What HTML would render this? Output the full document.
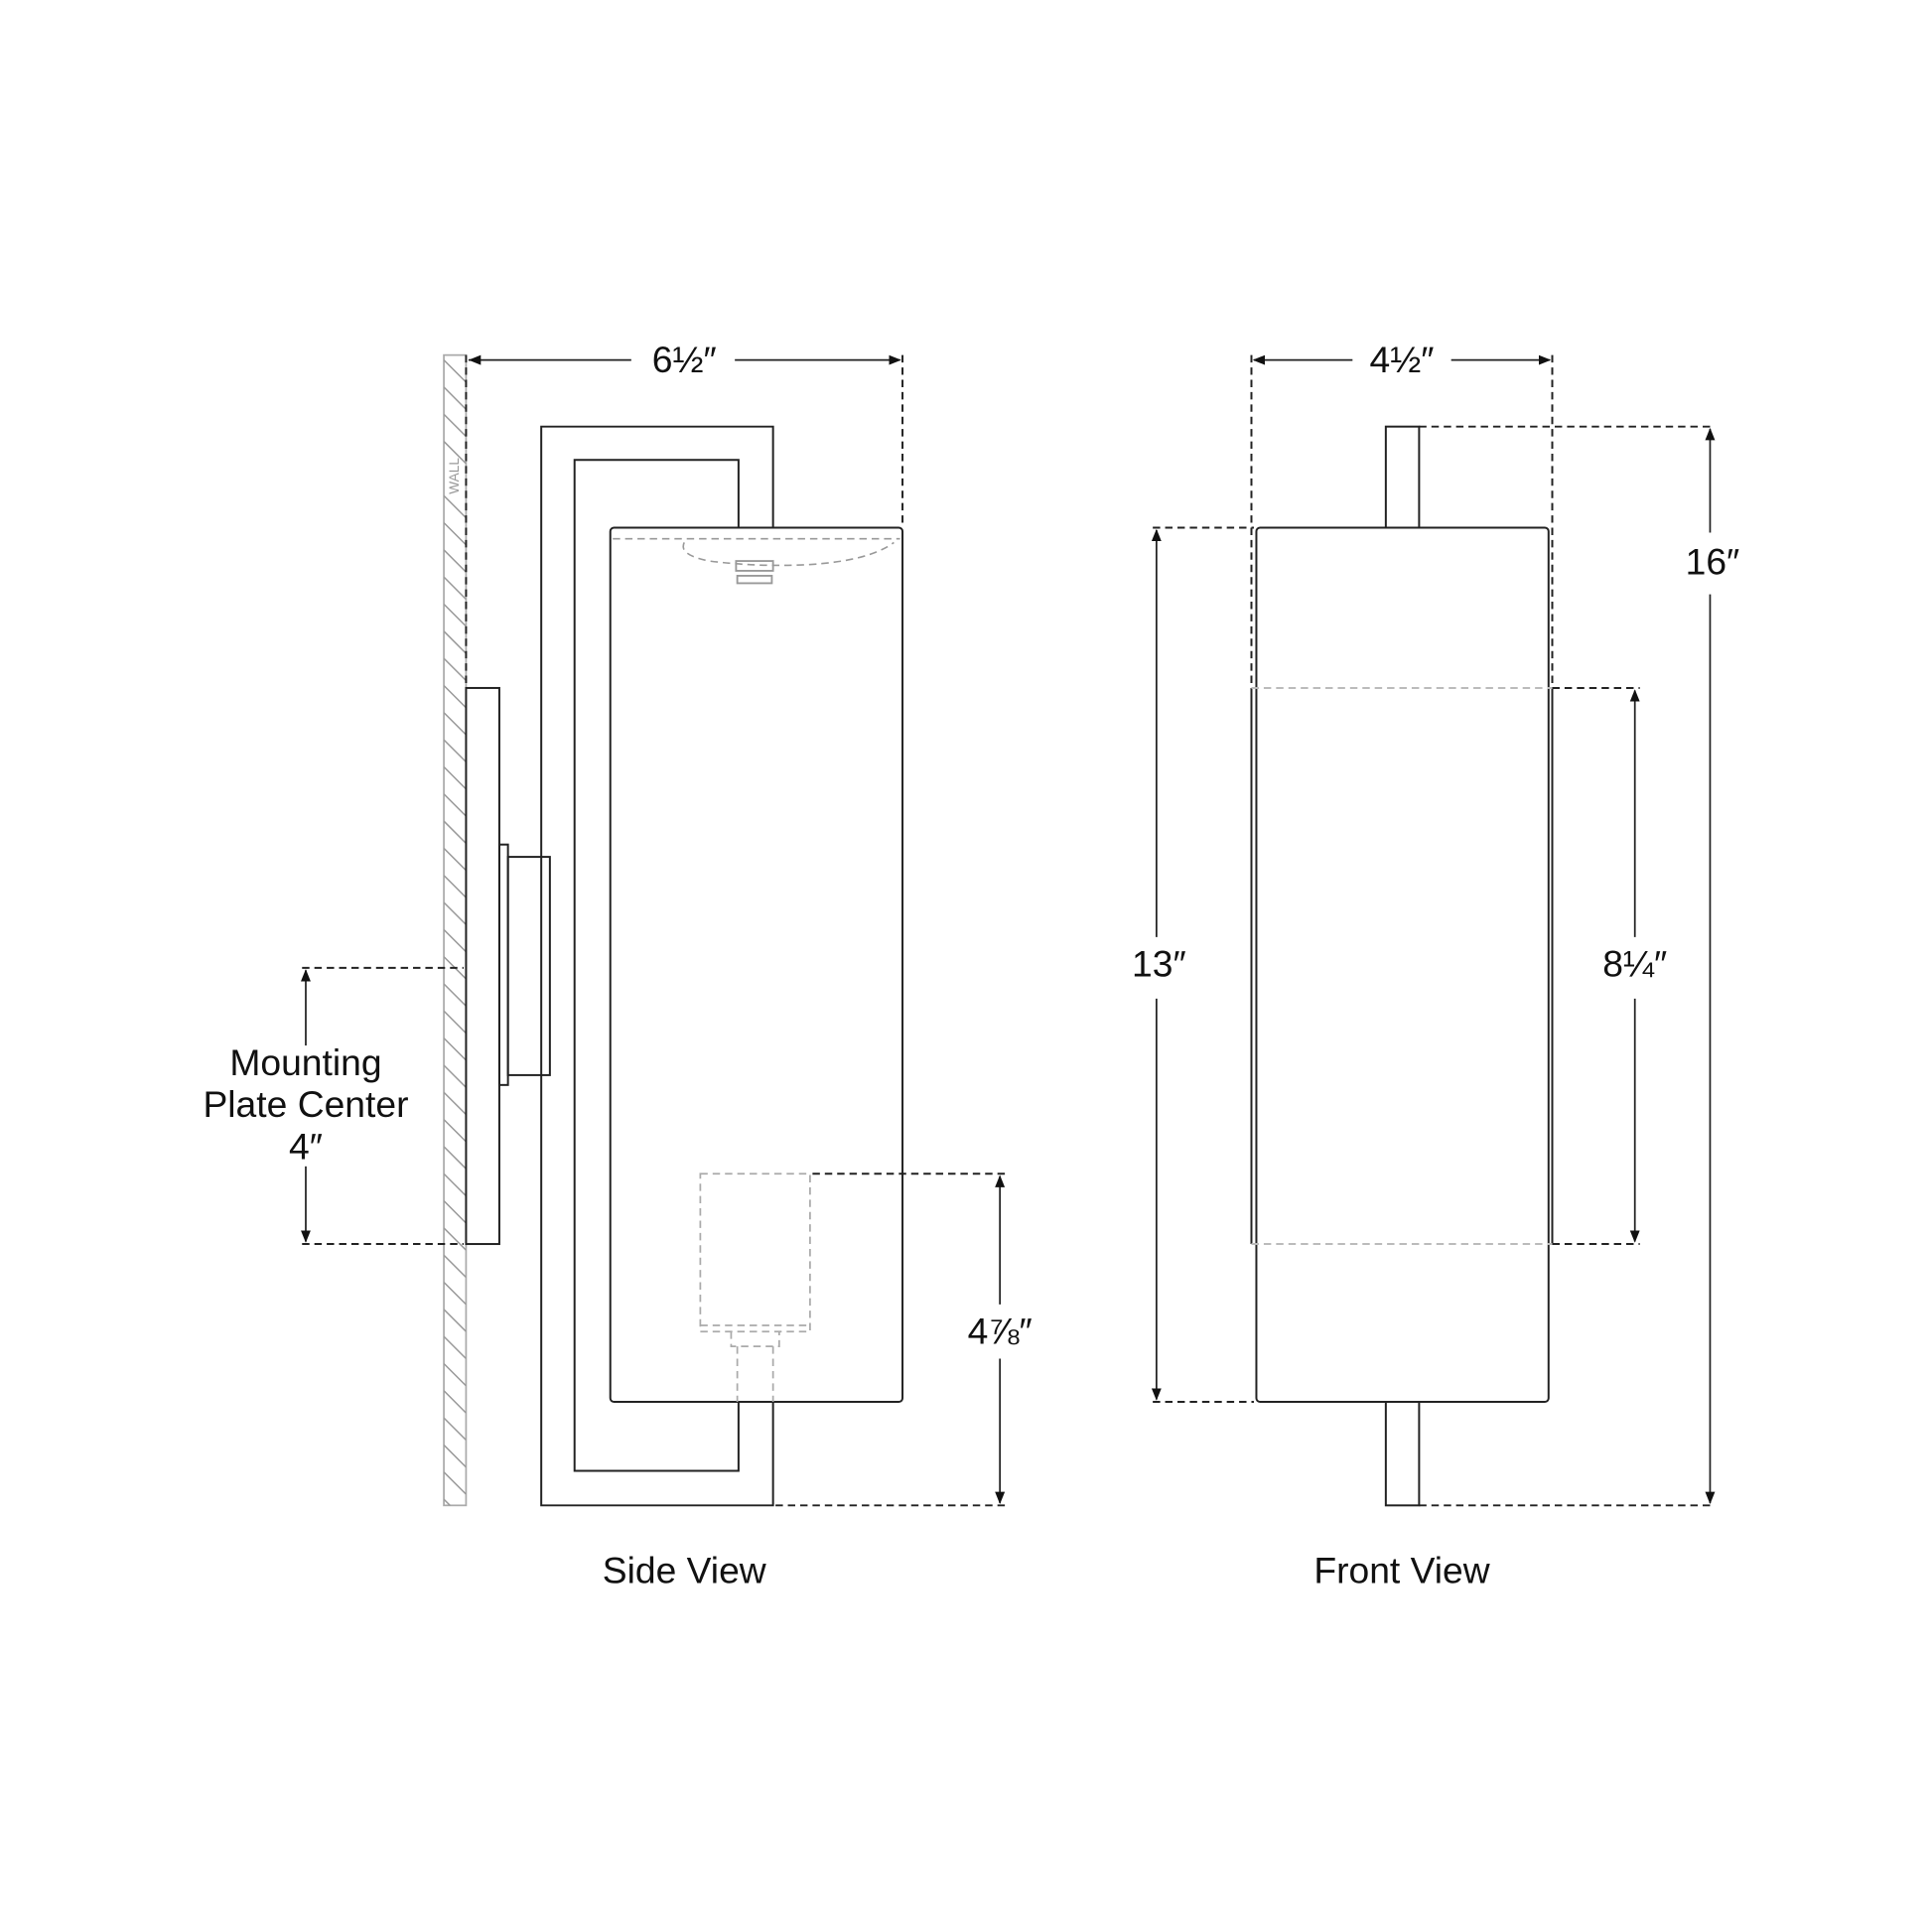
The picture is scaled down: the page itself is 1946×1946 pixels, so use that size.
<!DOCTYPE html>
<html><head><meta charset="utf-8"><style>
html,body{margin:0;padding:0;background:#fff}
svg{display:block}
text{font-family:"Liberation Sans",sans-serif;fill:#111}
</style></head><body>
<svg width="1946" height="1946" viewBox="0 0 1567 1567" xmlns="http://www.w3.org/2000/svg">
<defs>
<marker id="a" markerWidth="10" markerHeight="8" refX="9" refY="4" orient="auto" markerUnits="userSpaceOnUse"><path d="M0,0 L10,4 L0,8 z" fill="#111"/></marker>
<clipPath id="wc"><rect x="360" y="288" width="18" height="933"/></clipPath>
</defs>
<g fill="none" stroke="#222" stroke-width="1.6">
<rect x="360" y="288" width="18" height="933" stroke="#aaa" stroke-width="1.4"/>
<g clip-path="url(#wc)" stroke="#999" stroke-width="1.2">
<path d="M360,270 l18,18 M360,292 l18,18 M360,314 l18,18 M360,336 l18,18 M360,358 l18,18 M360,402 l18,18 M360,424 l18,18 M360,446 l18,18 M360,468 l18,18 M360,490 l18,18 M360,512 l18,18 M360,534 l18,18 M360,556 l18,18 M360,578 l18,18 M360,600 l18,18 M360,622 l18,18 M360,644 l18,18 M360,666 l18,18 M360,688 l18,18 M360,710 l18,18 M360,732 l18,18 M360,754 l18,18 M360,776 l18,18 M360,798 l18,18 M360,820 l18,18 M360,842 l18,18 M360,864 l18,18 M360,886 l18,18 M360,908 l18,18 M360,930 l18,18 M360,952 l18,18 M360,974 l18,18 M360,996 l18,18 M360,1018 l18,18 M360,1040 l18,18 M360,1062 l18,18 M360,1084 l18,18 M360,1106 l18,18 M360,1128 l18,18 M360,1150 l18,18 M360,1172 l18,18 M360,1194 l18,18 M360,1216 l18,18"/>
</g>
<line x1="378" y1="288" x2="378" y2="558" stroke-dasharray="6,4"/>
<line x1="380" y1="292" x2="512" y2="292" stroke-width="1.4"/>
<path d="M380,292 l10,-4 v8 z" fill="#111" stroke="none"/>
<line x1="596" y1="292" x2="730" y2="292" marker-end="url(#a)" stroke-width="1.4"/>
<line x1="732" y1="288" x2="732" y2="428" stroke-dasharray="6,4"/>
<path d="M627,428 V346 H439 V1221 H627 V1137"/>
<path d="M599,428 V373 H466 V1193 H599 V1137"/>
<rect x="495" y="428" width="237" height="709" rx="3"/>
<path d="M497,437 H730" stroke="#999" stroke-dasharray="6,4" stroke-width="1.3"/>
<path d="M555,440 q-5,10 20,15 q40,5 80,3 q50,-3 70,-18" stroke="#999" stroke-dasharray="6,4" stroke-width="1.3"/>
<path d="M597,455 h30 v8 h-30 z M598,467 h28 v6 h-28 z" stroke="#999" stroke-width="1.5"/>
<rect x="378" y="558" width="27" height="451"/>
<rect x="405" y="685" width="7" height="195"/>
<rect x="412" y="695" width="34" height="177"/>
<line x1="245" y1="785" x2="376" y2="785" stroke-dasharray="6,4"/>
<line x1="245" y1="1009" x2="376" y2="1009" stroke-dasharray="6,4"/>
<line x1="248" y1="848" x2="248" y2="787" marker-end="url(#a)" stroke-width="1.4"/>
<line x1="248" y1="946" x2="248" y2="1007" marker-end="url(#a)" stroke-width="1.4"/>
<g stroke="#aaa" stroke-dasharray="6,4" stroke-width="1.4">
<rect x="568" y="952" width="89" height="128"/>
<path d="M568,1075 H657 M593,1080 v12 h39 v-12 M598,1092 V1137 M627,1092 V1137"/>
</g>
<line x1="659" y1="952" x2="815" y2="952" stroke-dasharray="6,4"/>
<line x1="629" y1="1221" x2="815" y2="1221" stroke-dasharray="6,4"/>
<line x1="811" y1="1058" x2="811" y2="954" marker-end="url(#a)" stroke-width="1.4"/>
<line x1="811" y1="1102" x2="811" y2="1219" marker-end="url(#a)" stroke-width="1.4"/>
<line x1="1097" y1="292" x2="1017" y2="292" marker-end="url(#a)" stroke-width="1.4"/>
<line x1="1177" y1="292" x2="1257" y2="292" marker-end="url(#a)" stroke-width="1.4"/>
<line x1="1015" y1="288" x2="1015" y2="558" stroke-dasharray="6,4"/>
<line x1="1259" y1="288" x2="1259" y2="558" stroke-dasharray="6,4"/>
<rect x="1124" y="346" width="27" height="82"/>
<rect x="1124" y="1137" width="27" height="84"/>
<line x1="1151" y1="346" x2="1390" y2="346" stroke-dasharray="6,4"/>
<line x1="1151" y1="1221" x2="1390" y2="1221" stroke-dasharray="6,4"/>
<rect x="1019" y="428" width="237" height="709" rx="3"/>
<line x1="935" y1="428" x2="1017" y2="428" stroke-dasharray="6,4"/>
<line x1="935" y1="1137" x2="1017" y2="1137" stroke-dasharray="6,4"/>
<line x1="1015" y1="558" x2="1015" y2="1009"/>
<line x1="1259" y1="558" x2="1259" y2="1009"/>
<line x1="1015" y1="558" x2="1259" y2="558" stroke="#bbb" stroke-dasharray="6,4"/>
<line x1="1015" y1="1009" x2="1259" y2="1009" stroke="#bbb" stroke-dasharray="6,4"/>
<line x1="1259" y1="558" x2="1330" y2="558" stroke-dasharray="6,4"/>
<line x1="1259" y1="1009" x2="1330" y2="1009" stroke-dasharray="6,4"/>
<line x1="938" y1="760" x2="938" y2="430" marker-end="url(#a)" stroke-width="1.4"/>
<line x1="938" y1="810" x2="938" y2="1135" marker-end="url(#a)" stroke-width="1.4"/>
<line x1="1326" y1="760" x2="1326" y2="560" marker-end="url(#a)" stroke-width="1.4"/>
<line x1="1326" y1="810" x2="1326" y2="1007" marker-end="url(#a)" stroke-width="1.4"/>
<line x1="1387" y1="432" x2="1387" y2="348" marker-end="url(#a)" stroke-width="1.4"/>
<line x1="1387" y1="482" x2="1387" y2="1219" marker-end="url(#a)" stroke-width="1.4"/>
</g>
<text x="372" y="386" font-size="11" style="fill:#999" text-anchor="middle" transform="rotate(-90 372 386)">WALL</text>
<g font-size="30" text-anchor="middle">
<text x="555" y="302">6½″</text>
<text x="1137" y="302">4½″</text>
<text x="248" y="872">Mounting</text>
<text x="248" y="906">Plate Center</text>
<text x="248" y="940">4″</text>
<text x="811" y="1090">4⅞″</text>
<text x="940" y="792">13″</text>
<text x="1326" y="792">8¼″</text>
<text x="1389" y="466">16″</text>
<text x="555" y="1284">Side View</text>
<text x="1137" y="1284">Front View</text>
</g>
</svg>
</body></html>
